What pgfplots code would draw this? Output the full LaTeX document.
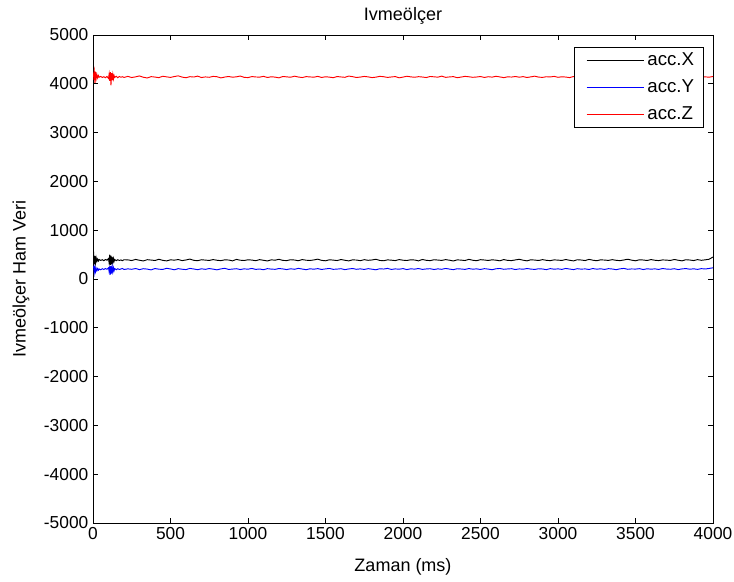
\documentclass[border=0pt]{standalone}
\usepackage{fontspec}
\setmainfont{Liberation Sans}
\usepackage{pgfplots}
\usepackage{pgfplotstable}
\pgfplotsset{compat=1.18}

% t [ms], acc.X, acc.Y, acc.Z (raw)
\pgfplotstableread{
t x y z
0 420 230 4080
4 560 250 4200
8 300 130 4270
12 470 240 4020
16 330 150 4250
20 440 220 4100
25 360 170 4190
30 410 215 4120
35 370 180 4170
40 400 205 4135
50 380 190 4150
60 395 210 4130
70 375 195 4145
80 400 215 4125
90 385 200 4150
100 420 230 4110
104 330 150 4200
108 500 260 4060
112 290 90 4240
116 480 270 3970
120 300 110 4220
124 450 250 4070
128 340 150 4190
132 420 230 4100
136 360 170 4170
140 400 215 4130
150 375 190 4155
160 395 210 4125
170 380 195 4150
180 390 205 4135
190 375 215 4145
200 395 195 4130
225 392 208 4152
250 378 199 4128
275 401 215 4143
300 384 192 4161
325 370 211 4134
350 396 203 4119
375 388 187 4147
400 379 214 4138
425 404 201 4126
450 382 196 4155
475 371 219 4142
500 393 206 4131
525 386 189 4149
550 399 212 4163
575 377 200 4137
600 390 193 4124
625 408 217 4146
650 383 205 4139
675 374 191 4157
700 395 209 4128
725 387 198 4141
750 380 214 4133
775 398 202 4152
800 384 188 4145
825 376 207 4121
850 393 219 4138
875 389 196 4150
900 372 203 4135
925 401 211 4143
950 385 194 4159
975 379 208 4132
1000 394 201 4127
1025 388 216 4148
1050 375 197 4140
1075 397 205 4136
1100 383 190 4153
1125 370 212 4129
1150 392 203 4144
1175 386 198 4137
1200 403 215 4122
1225 381 206 4150
1250 377 193 4142
1275 395 210 4134
1300 389 199 4156
1325 374 218 4139
1350 398 204 4128
1375 385 191 4147
1400 379 209 4141
1425 391 200 4135
1450 406 213 4152
1475 382 195 4130
1500 373 207 4144
1525 394 216 4137
1550 387 198 4125
1575 378 203 4149
1600 399 211 4140
1625 384 192 4133
1650 371 206 4158
1675 393 214 4146
1700 388 199 4129
1725 376 208 4138
1750 396 195 4151
1775 383 212 4142
1800 390 201 4127
1825 405 189 4136
1850 380 210 4153
1875 374 204 4145
1900 392 217 4131
1925 386 196 4140
1950 377 207 4148
1975 398 200 4123
2000 385 213 4137
2025 379 193 4155
2050 394 209 4142
2075 389 202 4134
2100 372 215 4146
2125 400 197 4139
2150 383 206 4128
2175 376 211 4150
2200 395 194 4143
2225 388 208 4136
2250 381 199 4157
2275 397 216 4132
2300 385 203 4141
2325 370 192 4147
2350 392 210 4125
2375 387 205 4138
2400 378 197 4152
2425 403 214 4144
2450 384 201 4133
2475 375 208 4139
2500 396 195 4149
2525 389 212 4130
2550 380 203 4145
2575 393 190 4137
2600 386 209 4154
2625 373 216 4141
2650 398 199 4126
2675 382 206 4143
2700 377 211 4138
2725 391 194 4150
2750 404 207 4135
2775 385 200 4147
2800 372 215 4129
2825 394 203 4142
2850 388 196 4156
2875 379 210 4137
2900 397 205 4131
2925 383 192 4145
2950 376 213 4140
2975 392 200 4152
3000 387 208 4133
3025 380 197 4144
3050 399 216 4138
3075 384 204 4127
3100 371 193 4149
3125 395 211 4141
3150 389 202 4135
3175 378 207 4153
3200 402 195 4139
3225 385 214 4130
3250 374 201 4146
3275 393 209 4142
3300 388 196 4134
3325 381 212 4151
3350 396 205 4137
3375 383 191 4145
3400 376 208 4128
3425 390 217 4143
3450 405 199 4155
3475 386 206 4136
3500 373 203 4141
3525 394 212 4149
3550 389 194 4132
3575 379 210 4144
3600 398 201 4139
3625 384 208 4152
3650 377 196 4135
3675 391 215 4127
3700 387 204 4146
3725 380 199 4140
3750 400 211 4133
3775 385 193 4150
3800 372 207 4143
3825 395 214 4131
3850 389 200 4147
3875 378 209 4138
3900 397 197 4154
3925 383 212 4136
3950 393 205 4142
3975 405 216 4135
4000 450 230 4150
}\accdata

\begin{document}
\begin{tikzpicture}
\begin{axis}[
    scale only axis,
    width=465pt, height=366pt,
    xmin=0, xmax=4000, ymin=-5000, ymax=5000,
    xtick={0,500,...,4000},
    ytick={-5000,-4000,...,5000},
    tick align=inside,
    major tick length=4pt,
    axis line style={line width=0.6pt},
    every tick/.style={black, line width=0.6pt},
    /pgf/number format/assume math mode=true,
    /pgf/number format/1000 sep={},
    tick label style={font=\fontsize{13}{15}\selectfont},
    title={Ivmeölçer},
    title style={font=\fontsize{13.5}{16}\selectfont, at={(axis description cs:0.5,1)}, anchor=base, yshift=5pt},
    xlabel={Zaman (ms)},
    xlabel style={font=\fontsize{13.5}{16}\selectfont, at={(axis description cs:0.5,0)}, anchor=base, yshift=-36pt},
    ylabel={Ivmeölçer Ham Veri},
    ylabel style={font=\fontsize{13.5}{16}\selectfont, at={(axis description cs:0,0.5)}, anchor=center, yshift=54pt},
    legend style={at={(1,1)}, anchor=north east, xshift=-7pt, yshift=-9pt,
        draw, fill=white, font=\fontsize{14}{16}\selectfont,
        inner xsep=5pt, inner ysep=1pt, row sep=2.5pt},
    legend cell align=left,
    legend image code/.code={\path (0pt,-8.5pt) (0pt,8.5pt); \draw[#1, line width=1pt] (4pt,0pt) -- (47pt,0pt);},
]
\addplot[color=black, line width=0.7pt] table[x=t, y=x] {\accdata};
\addlegendentry{acc.X}
\addplot[color=blue, line width=0.7pt] table[x=t, y=y] {\accdata};
\addlegendentry{acc.Y}
\addplot[color=red, line width=0.7pt] table[x=t, y=z] {\accdata};
\addlegendentry{acc.Z}
\end{axis}
\pgfresetboundingbox
\path ([xshift=-69.75pt,yshift=-43.5pt]current axis.south west) rectangle ([xshift=15.75pt,yshift=26.25pt]current axis.north east);
\end{tikzpicture}
\end{document}
